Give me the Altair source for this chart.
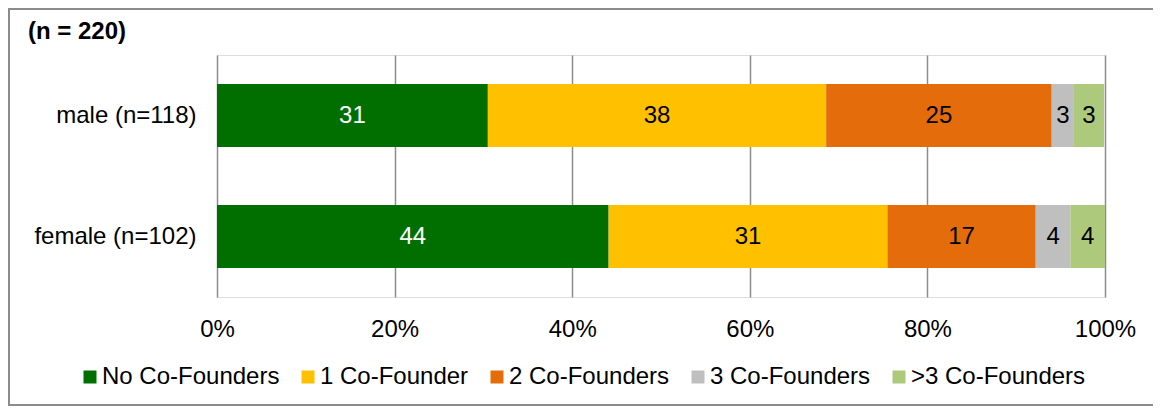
import altair as alt
import pandas as pd

groups = ["male (n=118)", "female (n=102)"]
categories = ["No Co-Founders", "1 Co-Founder", "2 Co-Founders", "3 Co-Founders", ">3 Co-Founders"]
colors = ["#006F00", "#FFC000", "#E46C0A", "#BFBFBF", "#ADC97C"]
male_values = [30.5, 38.1, 25.4, 2.5, 3.4]
female_values = [44.1, 31.4, 16.7, 3.9, 3.9]
male_labels = ["31", "38", "25", "3", "3"]
female_labels = ["44", "31", "17", "4", "4"]
x_ticks = [0, 20, 40, 60, 80, 100]
title_text = ["(n = 220)"]

rows = []
for g, vals, labs in [(groups[0], male_values, male_labels), (groups[1], female_values, female_labels)]:
    start = 0.0
    for i, (c, v, l) in enumerate(zip(categories, vals, labs)):
        rows.append(dict(group=g, category=c, order=i, start=start, end=start + v,
                         mid=start + v / 2, label=l))
        start += v
df = pd.DataFrame(rows)

FONT = "Liberation Sans"
FS = 24
GRID = "#8c8c8c"

x_scale = alt.Scale(domain=[0, 100], nice=False, zero=True)
y_scale = alt.Scale(domain=groups, paddingInner=0.48, paddingOuter=0.24)

border = alt.Chart(pd.DataFrame({"a": [0]})).mark_rect(
    filled=False, stroke=GRID, strokeWidth=2
).encode(x=alt.value(-208), x2=alt.value(1300), y=alt.value(-46), y2=alt.value(350))

bars = alt.Chart(df).mark_bar().encode(
    x=alt.X("start:Q", scale=x_scale,
            axis=alt.Axis(values=x_ticks, labelExpr="datum.value + '%'", title=None,
                          domain=False, ticks=False, grid=True, gridColor=GRID,
                          gridWidth=1.5, gridOpacity=1, labelFontSize=FS,
                          labelFlush=False, labelOverlap=False,
                          labelPadding=20, labelColor="black", labelFont=FONT)),
    x2="end:Q",
    y=alt.Y("group:N", sort=groups, scale=y_scale,
            axis=alt.Axis(title=None, domain=False, ticks=False, labelPadding=21,
                          labelFontSize=FS, labelColor="black", labelFont=FONT, grid=False)),
    color=alt.Color("category:N", sort=categories,
                    scale=alt.Scale(domain=categories, range=colors),
                    legend=alt.Legend(title=None, orient="none", direction="horizontal",
                                      columns=5, legendX=-139, legendY=310,
                                      symbolType="square", symbolSize=169,
                                      symbolStrokeWidth=0, symbolOpacity=1,
                                      labelFontSize=FS, labelFont=FONT, labelOffset=0,
                                      columnPadding=16, labelColor="black",
                                      labelLimit=400)),
)

labels = alt.Chart(df).mark_text(fontSize=FS, font=FONT, baseline="middle", align="center").encode(
    x=alt.X("mid:Q", scale=x_scale),
    y=alt.Y("group:N", sort=groups, scale=y_scale),
    text="label:N",
    color=alt.condition("datum.order == 0", alt.value("white"), alt.value("black")),
)

title = alt.Chart(pd.DataFrame({"t": title_text})).mark_text(
    fontSize=FS, font=FONT, fontWeight="bold", align="left", baseline="alphabetic", color="black"
).encode(x=alt.value(-189), y=alt.value(-16), text="t:N")

chart = alt.layer(border, bars, labels, title).properties(
    width=888, height=242,
    autosize=alt.AutoSizeParams(type="none"),
    padding={"left": 209, "top": 47, "right": 48, "bottom": 109},
).configure_view(stroke=None).configure(font=FONT, background="white")

chart.save("out.html", embed_options={"renderer": "svg", "actions": False})
